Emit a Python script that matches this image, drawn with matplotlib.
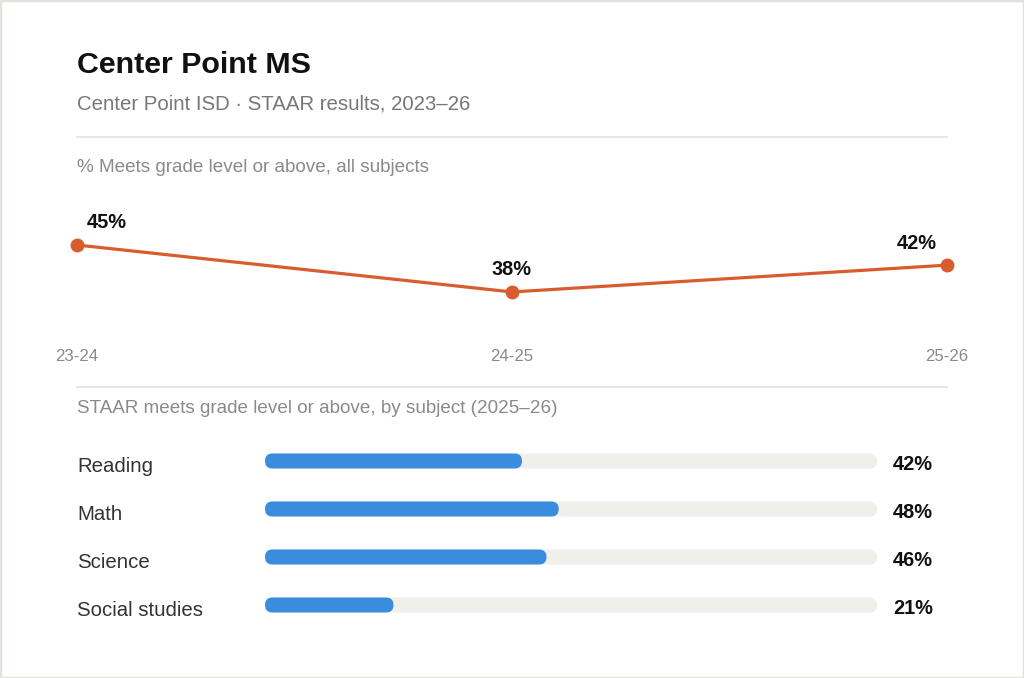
import matplotlib.pyplot as plt
from matplotlib.patches import FancyBboxPatch, Rectangle

plt.rcParams['font.family'] = ['Liberation Sans', 'DejaVu Sans']

# data
years = ['23-24', '24-25', '25-26']
meets_all = [45, 38, 42]
subjects = ['Reading', 'Math', 'Science', 'Social studies']
subject_meets = [42, 48, 46, 21]

W, H = 1024, 678
fig = plt.figure(figsize=(W / 100, H / 100), dpi=100)
fig.patch.set_facecolor('white')


def fy(px):
    return 1 - px / H


def fx(px):
    return px / W


# card border
fig.patches.append(Rectangle((0, 0), 1, 1, transform=fig.transFigure,
                             facecolor='none', edgecolor='#e2e2dc', linewidth=2.5))

# header
fig.text(fx(77), fy(73), 'Center Point MS', fontsize=21.9, fontweight='bold',
         color='#111111', va='baseline')
fig.text(fx(77), fy(109), 'Center Point ISD \u00b7 STAAR results, 2023\u201326',
         fontsize=14.7, color='#777777', va='baseline')
fig.add_artist(plt.Line2D([fx(77), fx(947)], [fy(137), fy(137)],
                          color='#e0e0dc', linewidth=1.2))
fig.text(fx(77), fy(172), '% Meets grade level or above, all subjects',
         fontsize=13.6, color='#8a8a8a', va='baseline')

# line chart
ylo, yhi = 30, 52
ppt = 6.71
top_px = 245 - (yhi - 45) * ppt
bot_px = 245 + (45 - ylo) * ppt
ax = fig.add_axes([fx(77), fy(bot_px), fx(947) - fx(77), (bot_px - top_px) / H])
ax.set_xlim(0, len(years) - 1)
ax.set_ylim(ylo, yhi)
xs = list(range(len(years)))
ax.plot(xs, meets_all, color='#d95c2e', linewidth=2.3, marker='o',
        markersize=9, clip_on=False, solid_capstyle='round')
for i, v in enumerate(meets_all):
    if i == 0:
        ha, dx = 'left', 7.2
    elif i == len(meets_all) - 1:
        ha, dx = 'right', -7.2
    else:
        ha, dx = 'center', 0
    ax.annotate(f'{v}%', (i, v), xytext=(dx, 11.9), textcoords='offset points',
                ha=ha, va='baseline', fontsize=14.4, fontweight='bold',
                color='#111111')
ax.set_xticks([])
ax.set_yticks([])
for s in ax.spines.values():
    s.set_visible(False)
ax.patch.set_alpha(0)
for i, lab in enumerate(years):
    xf = fx(77) + (fx(947) - fx(77)) * i / (len(years) - 1)
    fig.text(xf, fy(361), lab, fontsize=12.1, color='#8a8a8a',
             ha='center', va='baseline')

# second section
fig.add_artist(plt.Line2D([fx(77), fx(947)], [fy(386.5), fy(386.5)],
                          color='#e0e0dc', linewidth=1.2))
fig.text(fx(77), fy(413), 'STAAR meets grade level or above, by subject (2025\u201326)',
         fontsize=13.6, color='#8a8a8a', va='baseline')

# bars
row0, step = 461, 48
n = len(subjects)
b_top = row0 - step / 2
b_bot = row0 + step * (n - 0.5)
bx0, bx1 = 265, 877
bax = fig.add_axes([fx(bx0), fy(b_bot), fx(bx1) - fx(bx0), (b_bot - b_top) / H])
bax.set_xlim(0, 100)
bax.set_ylim(n - 0.5, -0.5)
bax.axis('off')

# rounded ends: correct the rounding for the axes' x/y scale
ax_per_px = 100 / (bx1 - bx0)
ay_per_px = n / (b_bot - b_top)
bar_px = 15
bh = bar_px * ay_per_px
aspect = ay_per_px / ax_per_px
rad = bar_px / 2 * ax_per_px

for i, (name, v) in enumerate(zip(subjects, subject_meets)):
    track = FancyBboxPatch((0, i - bh / 2), 100, bh,
                           boxstyle=f'round,pad=0,rounding_size={rad}',
                           mutation_aspect=aspect, facecolor='#f0efea',
                           edgecolor='none', clip_on=False)
    bax.add_patch(track)
    fill = FancyBboxPatch((0, i - bh / 2), v, bh,
                          boxstyle=f'round,pad=0,rounding_size={rad}',
                          mutation_aspect=aspect, facecolor='#3a8ddd',
                          edgecolor='none', clip_on=False)
    bax.add_patch(fill)
    yc = row0 + step * i
    fig.text(fx(77), fy(yc + 11), name, fontsize=14.7, color='#333333',
             va='baseline')
    fig.text(fx(893), fy(yc + 8.5), f'{v}%', fontsize=14.4, fontweight='bold',
             color='#111111', va='baseline')

fig.savefig('out.png', dpi=100)
